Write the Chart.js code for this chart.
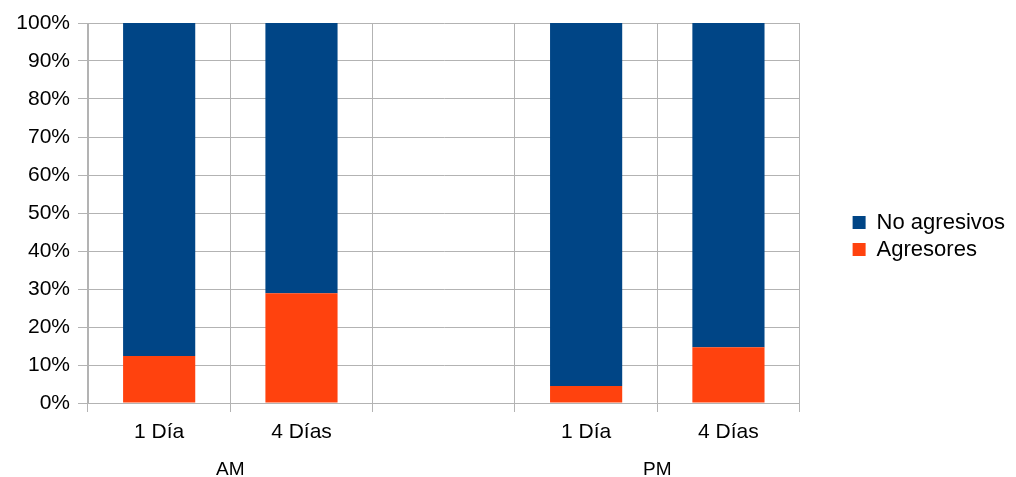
<!DOCTYPE html>
<html>
<head>
<meta charset="utf-8">
<script src="https://cdn.jsdelivr.net/npm/chart.js@4/dist/chart.umd.min.js"></script>
<style>
  html, body { margin: 0; padding: 0; background: #fff; }
  #wrap { width: 1016px; height: 477px; }
</style>
</head>
<body>
<div id="wrap"><canvas id="chart"></canvas></div>
<script>
// categories (slot 3 is the gap between AM and PM)
const categories = ['1 Día', '4 Días', '', '1 Día', '4 Días']
const groups = ['AM', 'PM']
const groupPositions = [1, 4]

// percentages
const agresores = [12.4, 28.9, null, 4.5, 14.7]
const noAgresivos = [87.6, 71.1, null, 95.5, 85.3]

const gridColor = '#b3b3b3'
const font = { family: '"Liberation Sans", Arial, sans-serif', size: 21 }

// empty space kept between the plot and the legend
const legendGap = 48
const legendShiftUp = 14

const legendGapPlugin = {
  id: 'legendGap',
  afterInit(chart) {
    const legend = chart.legend
    const fit = legend.fit
    legend.fit = function() {
      fit.call(this)
      this.width += legendGap
    }
  },
  afterLayout(chart) {
    const legend = chart.legend
    legend.left += legendGap
    legend.top -= legendShiftUp
    legend.bottom -= legendShiftUp
  }
}

new Chart(document.getElementById('chart'), {
  type: 'bar',
  data: {
    labels: categories,
    datasets: [{
      label: 'Agresores',
      data: agresores,
      backgroundColor: '#ff420e',
      categoryPercentage: 1,
      barPercentage: 0.507
    }, {
      label: 'No agresivos',
      data: noAgresivos,
      backgroundColor: '#004586',
      categoryPercentage: 1,
      barPercentage: 0.507
    }]
  },
  plugins: [legendGapPlugin],
  options: {
    responsive: true,
    maintainAspectRatio: false,
    animation: false,
    layout: { padding: { top: 23, right: 1, left: 0, bottom: 0 } },
    plugins: {
      tooltip: { enabled: false },
      legend: {
        position: 'right',
        reverse: true,
        labels: {
          boxWidth: 13,
          boxHeight: 13,
          color: '#000',
          font: { family: font.family, size: 22 },
          padding: 5
        }
      }
    },
    scales: {
      x: {
        stacked: true,
        grid: { color: gridColor, tickLength: 9, offset: true },
        border: { color: gridColor },
        ticks: { color: '#000', font: font, padding: 8, maxRotation: 0 },
        afterFit: (s) => { s.height = 44 }
      },
      groups: {
        type: 'linear',
        position: 'bottom',
        offset: false,
        min: 0,
        max: categories.length,
        grid: { display: false },
        border: { display: false },
        afterBuildTicks: (s) => { s.ticks = groupPositions.map((v) => ({ value: v })) },
        ticks: {
          color: '#000',
          font: { family: font.family, size: 19 },
          padding: 3,
          autoSkip: false,
          maxRotation: 0,
          callback: (v, i) => groups[i]
        },
        afterFit: (s) => { s.height = 30 }
      },
      y: {
        stacked: true,
        min: 0,
        max: 100,
        grid: { color: gridColor, tickLength: 10 },
        border: { color: gridColor },
        ticks: {
          stepSize: 10,
          color: '#000',
          font: font,
          padding: 8,
          callback: (v) => v + '%'
        },
        afterFit: (s) => { s.width = 88 }
      }
    }
  }
})
</script>
</body>
</html>
